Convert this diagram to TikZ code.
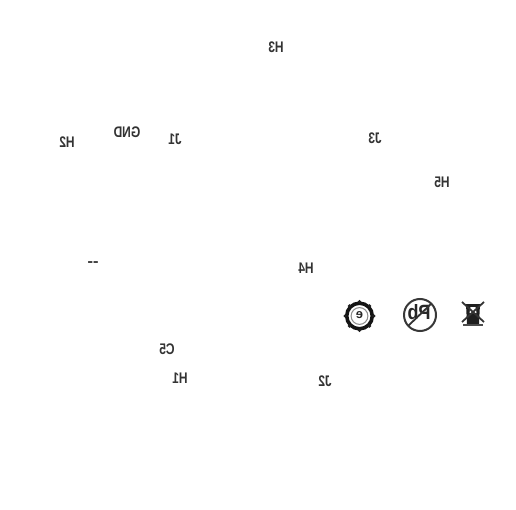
\documentclass[tikz,border=0pt]{standalone}
\usepackage{fontspec}
\setmainfont{Liberation Sans}
\begin{document}
\begin{tikzpicture}[x=1pt,y=-1pt,
  lbl/.style={inner sep=0pt,text=black!80,font=\fontsize{12}{12}\selectfont\bfseries,xscale=-1,yscale=1.28}]
\useasboundingbox[fill=white] (0,0) rectangle (516,510);
\node[lbl] (h3) at (276,47) {H3};
\node[lbl] (h2) at (67,142) {H2};
\node[lbl] (gnd) at (127,132) {GND};
\node[lbl] (j1) at (175,139) {J1};
\node[lbl] (j3) at (375,138) {J3};
\node[lbl] (h5) at (442,182) {H5};
\node[lbl] (h4) at (306,268) {H4};
\node[lbl] (c5) at (167,349) {C5};
\node[lbl] (h1) at (180,378) {H1};
\node[lbl] (j2) at (325,381) {J2};
\node[lbl,xscale=1.4] (dash) at (93,264) {-{}-};
% eco mark
\draw[line width=3.6pt,black!92] (359.5,316) circle (12.8);
\foreach \a in {0,45,...,315}
  \fill[black!88] (359.5,316) ++(\a:14.2) circle (1.9);
\draw[line width=1pt,black!45] (359.5,316) circle (8.4);
\node[inner sep=0pt,xscale=-1,font=\fontsize{13}{13}\selectfont\bfseries,text=black!85] (eco) at (359.5,315.5) {e};
% Pb mark
\draw[line width=2pt,black!78] (420,315) circle (16);
\node[inner sep=0pt,xscale=-1,yscale=1.15,font=\fontsize{18}{18}\selectfont\bfseries,text=black!85] (pb) at (419,312) {Pb};
\draw[line width=1.8pt,black!80] (408,326) -- (431,304);
% bin mark
\fill[black!88] (466,304) -- (480,304) -- (479,324) -- (467,324) -- cycle;
\fill[white] (470.5,307) -- (475.5,307) -- (476.5,313) -- (469.5,313) -- cycle;
\draw[line width=1.8pt,black!80] (462,302) -- (484,322) (484,302) -- (462,322);
\fill[black!70] (463,323.5) rectangle (483,326);
\end{tikzpicture}
\end{document}
